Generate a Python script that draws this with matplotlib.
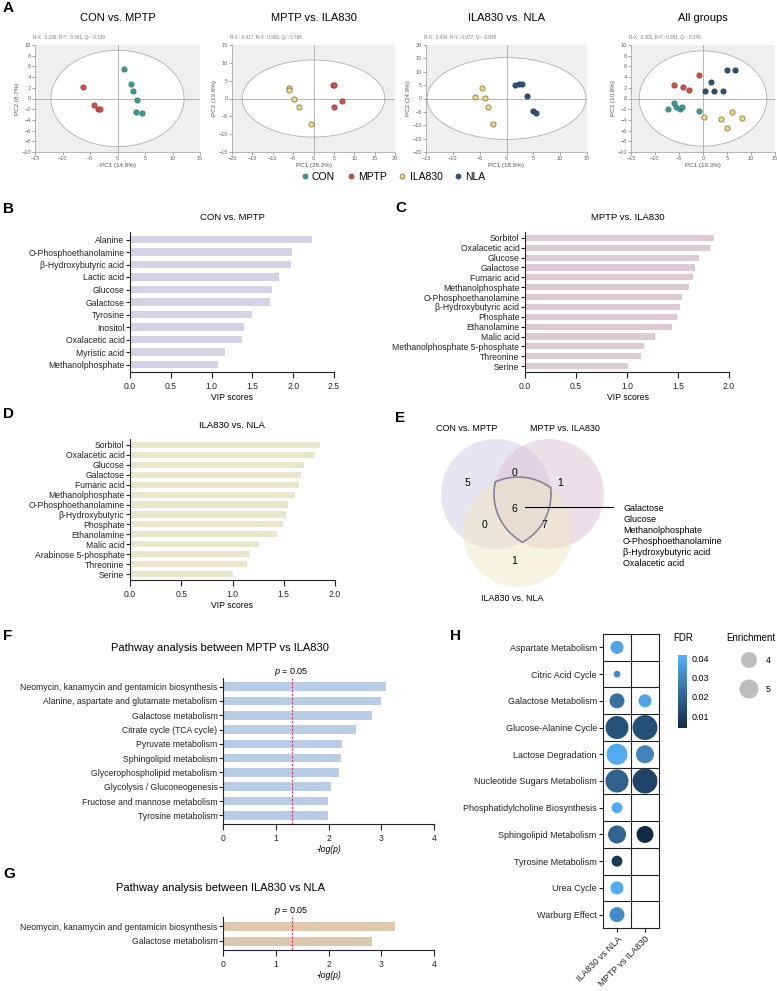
import numpy as np
import matplotlib
matplotlib.use("Agg")
import matplotlib.pyplot as plt
from matplotlib.patches import Ellipse, Circle
from matplotlib.colors import LinearSegmentedColormap, Normalize
from matplotlib.cm import ScalarMappable
from matplotlib.lines import Line2D

plt.rcParams['font.family'] = ['Liberation Sans', 'DejaVu Sans']
plt.rcParams['mathtext.fontset'] = 'custom'
plt.rcParams['mathtext.it'] = 'Liberation Sans:italic'
plt.rcParams['mathtext.rm'] = 'Liberation Sans'

W, H = 777, 991

# ---------------- data ----------------
# A: PCA scores
pca1_con_x = [1.1, 2.4, 2.8, 3.6, 3.4, 4.4]
pca1_con_y = [5.6, 2.7, 1.4, -0.2, -2.5, -2.8]
pca1_mptp_x = [-6.3, -4.2, -3.6, -3.1]
pca1_mptp_y = [2.2, -1.3, -2.0, -2.0]

pca2_mptp_x = [4.7, 5.1, 7.1, 5.1]
pca2_mptp_y = [3.7, 3.7, -0.8, -2.3]
pca2_ila_x = [-6.0, -6.0, -4.8, -3.5, -0.6]
pca2_ila_y = [2.9, 2.4, -0.1, -2.3, -7.1]

pca3_ila_x = [-4.6, -5.9, -4.0, -3.5, -2.5]
pca3_ila_y = [3.8, 0.4, 0.1, -3.1, -9.5]
pca3_nla_x = [1.5, 2.3, 2.8, 3.9, 5.0, 5.5]
pca3_nla_y = [4.9, 5.6, 5.6, 0.9, -4.5, -5.5]

pca4_con_x = [-7.2, -6.1, -5.7, -4.7, -4.4, -0.8]
pca4_con_y = [-2.0, -0.8, -1.5, -2.0, -1.5, -2.4]
pca4_mptp_x = [-6.1, -4.1, -2.9, -0.9]
pca4_mptp_y = [2.6, 2.1, 1.6, 4.4]
pca4_ila_x = [0.3, 3.7, 6.1, 8.1, 5.1]
pca4_ila_y = [-3.4, -3.9, -2.6, -3.7, -5.5]
pca4_nla_x = [1.6, 0.5, 2.2, 4.1, 5.1, 6.6]
pca4_nla_y = [3.0, 1.4, 1.4, 1.4, 5.4, 5.4]

pca_titles = ['CON vs. MPTP', 'MPTP vs. ILA830', 'ILA830 vs. NLA', 'All groups']
pca_stats = ['R\u00b2X : 0.236, R\u00b2Y : 0.981, Q\u00b2 : 0.139',
             'R\u00b2X : 0.417, R\u00b2Y : 0.909, Q\u00b2 : 0.786',
             'R\u00b2X : 0.434, R\u00b2Y : 0.977, Q\u00b2 : 0.848',
             'R\u00b2X : 0.301, R\u00b2Y : 0.951, Q\u00b2 : 0.345']
pca_xlabels = ['PC1 (14.8%)', 'PC1 (28.2%)', 'PC1 (18.5%)', 'PC1 (19.3%)']
pca_ylabels = ['PC2 (8.7%)', 'PC2 (13.6%)', 'PC2 (24.9%)', 'PC2 (10.8%)']
groups = ['CON', 'MPTP', 'ILA830', 'NLA']

# B: VIP scores CON vs MPTP
b_names = ['Alanine', 'O-Phosphoethanolamine', '\u03b2-Hydroxybutyric acid', 'Lactic acid',
           'Glucose', 'Galactose', 'Tyrosine', 'Inositol', 'Oxalacetic acid',
           'Myristic acid', 'Methanolphosphate']
b_vip = [2.23, 1.98, 1.97, 1.82, 1.74, 1.72, 1.50, 1.40, 1.37, 1.17, 1.08]

# C: VIP scores MPTP vs ILA830
c_names = ['Sorbitol', 'Oxalacetic acid', 'Glucose', 'Galactose', 'Fumaric acid',
           'Methanolphosphate', 'O-Phosphoethanolamine', '\u03b2-Hydroxybutyric acid',
           'Phosphate', 'Ethanolamine', 'Malic acid', 'Methanolphosphate 5-phosphate',
           'Threonine', 'Serine']
c_vip = [1.85, 1.81, 1.71, 1.67, 1.65, 1.61, 1.54, 1.52, 1.49, 1.44, 1.27, 1.17, 1.14, 1.01]

# D: VIP scores ILA830 vs NLA
d_names = ['Sorbitol', 'Oxalacetic acid', 'Glucose', 'Galactose', 'Fumaric acid',
           'Methanolphosphate', 'O-Phosphoethanolamine', '\u03b2-Hydroxybutyric',
           'Phosphate', 'Ethanolamine', 'Malic acid', 'Arabinose 5-phosphate',
           'Threonine', 'Serine']
d_vip = [1.85, 1.80, 1.70, 1.67, 1.65, 1.61, 1.54, 1.52, 1.49, 1.43, 1.26, 1.17, 1.14, 1.00]

# E: Venn counts
venn_sets = ['CON vs. MPTP', 'MPTP vs. ILA830', 'ILA830 vs. NLA']
venn_counts = {'100': 5, '010': 1, '001': 1, '110': 0, '101': 0, '011': 7, '111': 6}
venn_shared = ['Galactose', 'Glucose', 'Methanolphosphate', 'O-Phosphoethanolamine',
               '\u03b2-Hydroxybutyric acid', 'Oxalacetic acid']

# F / G: pathway analysis
f_names = ['Neomycin, kanamycin and gentamicin biosynthesis',
           'Alanine, aspartate and glutamate metabolism', 'Galactose metabolism',
           'Citrate cycle (TCA cycle)', 'Pyruvate metabolism', 'Sphingolipid metabolism',
           'Glycerophospholipid metabolism', 'Glycolysis / Gluconeogenesis',
           'Fructose and mannose metabolism', 'Tyrosine metabolism']
f_logp = [3.09, 2.99, 2.83, 2.53, 2.25, 2.23, 2.20, 2.04, 1.99, 1.99]
g_names = ['Neomycin, kanamycin and gentamicin biosynthesis', 'Galactose metabolism']
g_logp = [3.26, 2.83]
p_cut = 0.05

# H: enrichment dot plot
h_rows = ['Aspartate Metabolism', 'Citric Acid Cycle', 'Galactose Metabolism',
          'Glucose-Alanine Cycle', 'Lactose Degradation', 'Nucleotide Sugars Metabolism',
          'Phosphatidylcholine Biosynthesis', 'Sphingolipid Metabolism',
          'Tyrosine Metabolism', 'Urea Cycle', 'Warburg Effect']
h_cols = ['ILA830 vs NLA', 'MPTP vs ILA830']
nan = np.nan
fdr_ila = [0.038, 0.031, 0.024, 0.015, 0.040, 0.019, 0.040, 0.020, 0.008, 0.040, 0.031]
fdr_mptp = [nan, nan, 0.038, 0.014, 0.029, 0.011, nan, 0.004, nan, nan, nan]
enr_ila = [3.2, 2.0, 3.7, 6.6, 5.8, 6.6, 2.7, 4.65, 2.7, 3.2, 3.7]
enr_mptp = [nan, nan, 3.2, 7.5, 4.65, 7.5, nan, 4.3, nan, nan, nan]
enr_legend = [4, 5]

# ---------------- drawing ----------------
fig = plt.figure(figsize=(W / 100, H / 100), dpi=100)


def px(l, t, r, b):
    return [l / W, 1 - b / H, (r - l) / W, (b - t) / H]


def ftxt(x, y, s, **kw):
    kw.setdefault('ha', 'center')
    kw.setdefault('va', 'center')
    return fig.text(x / W, 1 - y / H, s, **kw)


# overlay in pixel coordinates (venn, legends)
ov = fig.add_axes([0, 0, 1, 1])
ov.set_xlim(0, W)
ov.set_ylim(H, 0)
ov.axis('off')
ov.patch.set_visible(False)

for lab, x, y in [('A', 3, 8), ('B', 3, 209), ('C', 395, 208), ('D', 3, 414),
                  ('E', 395, 418), ('F', 3, 636), ('G', 3, 874), ('H', 450, 636)]:
    ftxt(x, y, lab, fontsize=11, fontweight='bold', ha='left')

# ---- A
fills = {'CON': '#3f9b8d', 'MPTP': '#c8544b', 'ILA830': '#efd98a', 'NLA': '#2f5178'}
edges = {'CON': '#2d7b6f', 'MPTP': '#9c3b35', 'ILA830': '#8c7a3c', 'NLA': '#233f60'}

pca_data = [
    [('MPTP', pca1_mptp_x, pca1_mptp_y), ('CON', pca1_con_x, pca1_con_y)],
    [('MPTP', pca2_mptp_x, pca2_mptp_y), ('ILA830', pca2_ila_x, pca2_ila_y)],
    [('ILA830', pca3_ila_x, pca3_ila_y), ('NLA', pca3_nla_x, pca3_nla_y)],
    [('CON', pca4_con_x, pca4_con_y), ('MPTP', pca4_mptp_x, pca4_mptp_y),
     ('ILA830', pca4_ila_x, pca4_ila_y), ('NLA', pca4_nla_x, pca4_nla_y)],
]
pca_rects = [(35, 45, 200, 152), (232, 45, 395, 152), (426, 45, 587, 152), (631, 45, 775, 152)]
pca_lims = [((-15, 15), (-10, 10), 5, 2), ((-20, 20), (-15, 15), 5, 5),
            ((-15, 15), (-20, 20), 5, 5), ((-15, 15), (-10, 10), 5, 2)]
pca_ell = [(12.1, 9.0), (17.5, 10.8), (14.8, 15.3), (13.3, 8.9)]

for i in range(4):
    l, t, r, b = pca_rects[i]
    ax = fig.add_axes(px(l, t, r, b))
    ax.set_facecolor('#efefef')
    (x0, x1), (y0, y1), xs, ys = pca_lims[i]
    ax.add_patch(Ellipse((0, 0), 2 * pca_ell[i][0], 2 * pca_ell[i][1], facecolor='white',
                         edgecolor='#b0b0b0', lw=0.6, zorder=1))
    ax.axhline(0, color='#9a9a9a', lw=0.5, zorder=1.5)
    ax.axvline(0, color='#9a9a9a', lw=0.5, zorder=1.5)
    for g, gx, gy in pca_data[i]:
        ax.scatter(gx, gy, s=14, color=fills[g], edgecolor=edges[g], lw=0.6, zorder=3)
    ax.set_xlim(x0, x1)
    ax.set_ylim(y0, y1)
    ax.set_xticks(np.arange(x0, x1 + 1, xs))
    ax.set_yticks(np.arange(y0, y1 + 1, ys))
    ax.tick_params(labelsize=4, length=2, width=0.4, pad=1, colors='#666666')
    for s in ['top', 'right']:
        ax.spines[s].set_visible(False)
    for s in ['left', 'bottom']:
        ax.spines[s].set_color('#9a9a9a')
        ax.spines[s].set_linewidth(0.5)
    ax.set_xlabel(pca_xlabels[i], fontsize=4.5, labelpad=1, color='#555555')
    ax.set_ylabel(pca_ylabels[i], fontsize=4.5, labelpad=1, color='#555555')
    ftxt((l + r) / 2, 18, pca_titles[i], fontsize=8)
    ftxt(l - 2, 38, pca_stats[i], fontsize=3.3, ha='left', color='#777777')

handles = [Line2D([], [], marker='o', ls='', markersize=3.5, markerfacecolor=fills[g],
                  markeredgecolor=edges[g], markeredgewidth=0.6) for g in groups]
fig.legend(handles, groups, loc='center', bbox_to_anchor=(392 / W, 1 - 177 / H), ncol=4,
           frameon=False, fontsize=7.5, handletextpad=0.1, columnspacing=0.9,
           handlelength=1.2)


# ---- bar panels
def hbar(rect, names, vals, color, xlim, xticks, fmt, height=0.62, fs=6.2):
    ax = fig.add_axes(px(*rect))
    y = np.arange(len(names))
    ax.barh(y, vals, height=height, color=color)
    ax.set_ylim(len(names) - 1 + 0.6, -0.6)
    ax.set_xlim(*xlim)
    ax.set_yticks(y)
    ax.set_yticklabels(names, fontsize=fs, color='#222222')
    ax.set_xticks(xticks)
    ax.set_xticklabels([fmt.format(v) for v in xticks], fontsize=fs, color='#222222')
    for s in ['top', 'right']:
        ax.spines[s].set_visible(False)
    for s in ['left', 'bottom']:
        ax.spines[s].set_linewidth(0.8)
        ax.spines[s].set_color('#222222')
    ax.tick_params(axis='y', length=3, width=0.8, pad=1, color='#222222')
    ax.tick_params(axis='x', length=4, width=0.8, pad=3, color='#222222')
    return ax


hbar((130, 232, 334, 372), b_names, b_vip, '#d4d2e5', (0, 2.5), [0, 0.5, 1, 1.5, 2, 2.5], '{:.1f}')
ftxt(232, 218, 'CON vs. MPTP', fontsize=6.8)
ftxt(232, 398, 'VIP scores', fontsize=6.2)

hbar((525, 232, 729, 372), c_names, c_vip, '#dfc9d4', (0, 2.0), [0, 0.5, 1, 1.5, 2], '{:.1f}')
ftxt(628, 218, 'MPTP vs. ILA830', fontsize=6.8)
ftxt(628, 398, 'VIP scores', fontsize=6.2)

hbar((130, 439, 335, 580), d_names, d_vip, '#eae6cb', (0, 2.0), [0, 0.5, 1, 1.5, 2], '{:.1f}')
ftxt(232, 425, 'ILA830 vs. NLA', fontsize=6.8)
ftxt(232, 606, 'VIP scores', fontsize=6.2)

cut = -np.log10(p_cut)
for rect, names, vals, color, ty, ttl in [
        ((223, 678, 434, 824), f_names, f_logp, '#b8cce4', 648, 'MPTP vs ILA830'),
        ((223, 917, 434, 950), g_names, g_logp, '#dec9af', 888, 'ILA830 vs NLA')]:
    ax = hbar(rect, names, vals, color, (0, 4), [0, 1, 2, 3, 4], '{:d}', height=0.6)
    ax.axvline(cut, color='#e0306a', lw=0.8, ls=(0, (2, 1.5)))
    ax.set_xlabel('-log(p)', fontsize=6.2, fontstyle='italic', labelpad=2)
    ax.text(cut, -0.6, r'$p$ = 0.05', transform=ax.transData, fontsize=6.5,
            ha='center', va='bottom')
    ftxt(220, ty, 'Pathway analysis between ' + ttl, fontsize=8)

# ---- E venn
centers = [(496, 494), (549, 494), (518, 532)]
rad = 55
vcolors = ['#d0cce5', '#dcc0d1', '#efe8c6']
for (cx, cy), col in zip(centers, vcolors):
    ov.add_patch(Circle((cx, cy), rad, facecolor=col, edgecolor='none', alpha=0.5))
t = np.linspace(0, 2 * np.pi, 1441)
for i, (cx, cy) in enumerate(centers):
    xs = cx + rad * np.cos(t)
    ys = cy + rad * np.sin(t)
    inside = np.ones_like(t, dtype=bool)
    for j, (ox, oy) in enumerate(centers):
        if j != i:
            inside &= (xs - ox) ** 2 + (ys - oy) ** 2 <= rad ** 2 + 1e-6
    xs = np.where(inside, xs, np.nan)
    ys = np.where(inside, ys, np.nan)
    ov.plot(xs, ys, color='#8a8398', lw=1.2)

venn_pos = {'100': (467, 482), '010': (560, 482), '001': (514, 561), '110': (514, 472),
            '101': (484, 525), '011': (544, 525), '111': (514, 509)}
for k, v in venn_counts.items():
    ov.text(venn_pos[k][0], venn_pos[k][1] + 3.5, str(v), fontsize=7.5, ha='center',
            va='baseline')
ov.text(467, 431, venn_sets[0], fontsize=6.5, ha='center', va='baseline')
ov.text(565, 431, venn_sets[1], fontsize=6.5, ha='center', va='baseline')
ov.text(512, 601, venn_sets[2], fontsize=6.5, ha='center', va='baseline')
ov.plot([525, 613], [507, 507], color='black', lw=0.8)
for k, name in enumerate(venn_shared):
    ov.text(623, 511 + 11 * k, name, fontsize=6.5, ha='left', va='baseline')

# ---- H dot plot
cmap = LinearSegmentedColormap.from_list('gg', ['#132B43', '#56B1F7'])
norm = Normalize(0.0038, 0.0416)


def esize(e):
    return 0.5184 * (105 * np.asarray(e, dtype=float) - 164)


ax = fig.add_axes(px(603, 634, 659, 928))
yy = np.arange(len(h_rows))
for ci, (fdr, enr) in enumerate([(fdr_ila, enr_ila), (fdr_mptp, enr_mptp)]):
    fdr = np.asarray(fdr)
    enr = np.asarray(enr)
    ok = ~np.isnan(fdr)
    ax.scatter(np.full(ok.sum(), ci), yy[ok], s=esize(enr[ok]), c=fdr[ok], cmap=cmap,
               norm=norm, edgecolor='none', zorder=3)
ax.set_xlim(-0.5, 1.5)
ax.set_ylim(len(h_rows) - 0.5, -0.5)
for k in range(1, len(h_rows)):
    ax.axhline(k - 0.5, color='#222222', lw=0.8)
ax.axvline(0.5, color='#222222', lw=0.8)
for s in ax.spines.values():
    s.set_linewidth(0.8)
    s.set_color('#222222')
ax.set_yticks(yy)
ax.set_yticklabels(h_rows, fontsize=6.5, color='#222222')
ax.set_xticks([0, 1])
ax.set_xticklabels(h_cols, fontsize=6.5, rotation=45, ha='right', rotation_mode='anchor',
                   color='#222222')
ax.tick_params(length=3, width=0.8, pad=1.5, color='#222222')

cax = fig.add_axes(px(678, 655, 687, 728))
cb = fig.colorbar(ScalarMappable(norm=norm, cmap=cmap), cax=cax)
cb.outline.set_visible(False)
cb.set_ticks([0.01, 0.02, 0.03, 0.04])
cb.set_ticklabels(['0.01', '0.02', '0.03', '0.04'])
cax.tick_params(length=0, labelsize=6.5, pad=3)
ftxt(673, 638, 'FDR', fontsize=7, ha='left')
ftxt(726, 638, 'Enrichment', fontsize=7, ha='left')
ov.scatter([749, 749], [660, 689], s=esize(enr_legend), color='#bdbdbd', edgecolor='none')
for e, y in zip(enr_legend, [660, 689]):
    ov.text(768, y + 3, str(e), fontsize=6.5, ha='center', va='baseline')

fig.savefig('out.png', dpi=100)
